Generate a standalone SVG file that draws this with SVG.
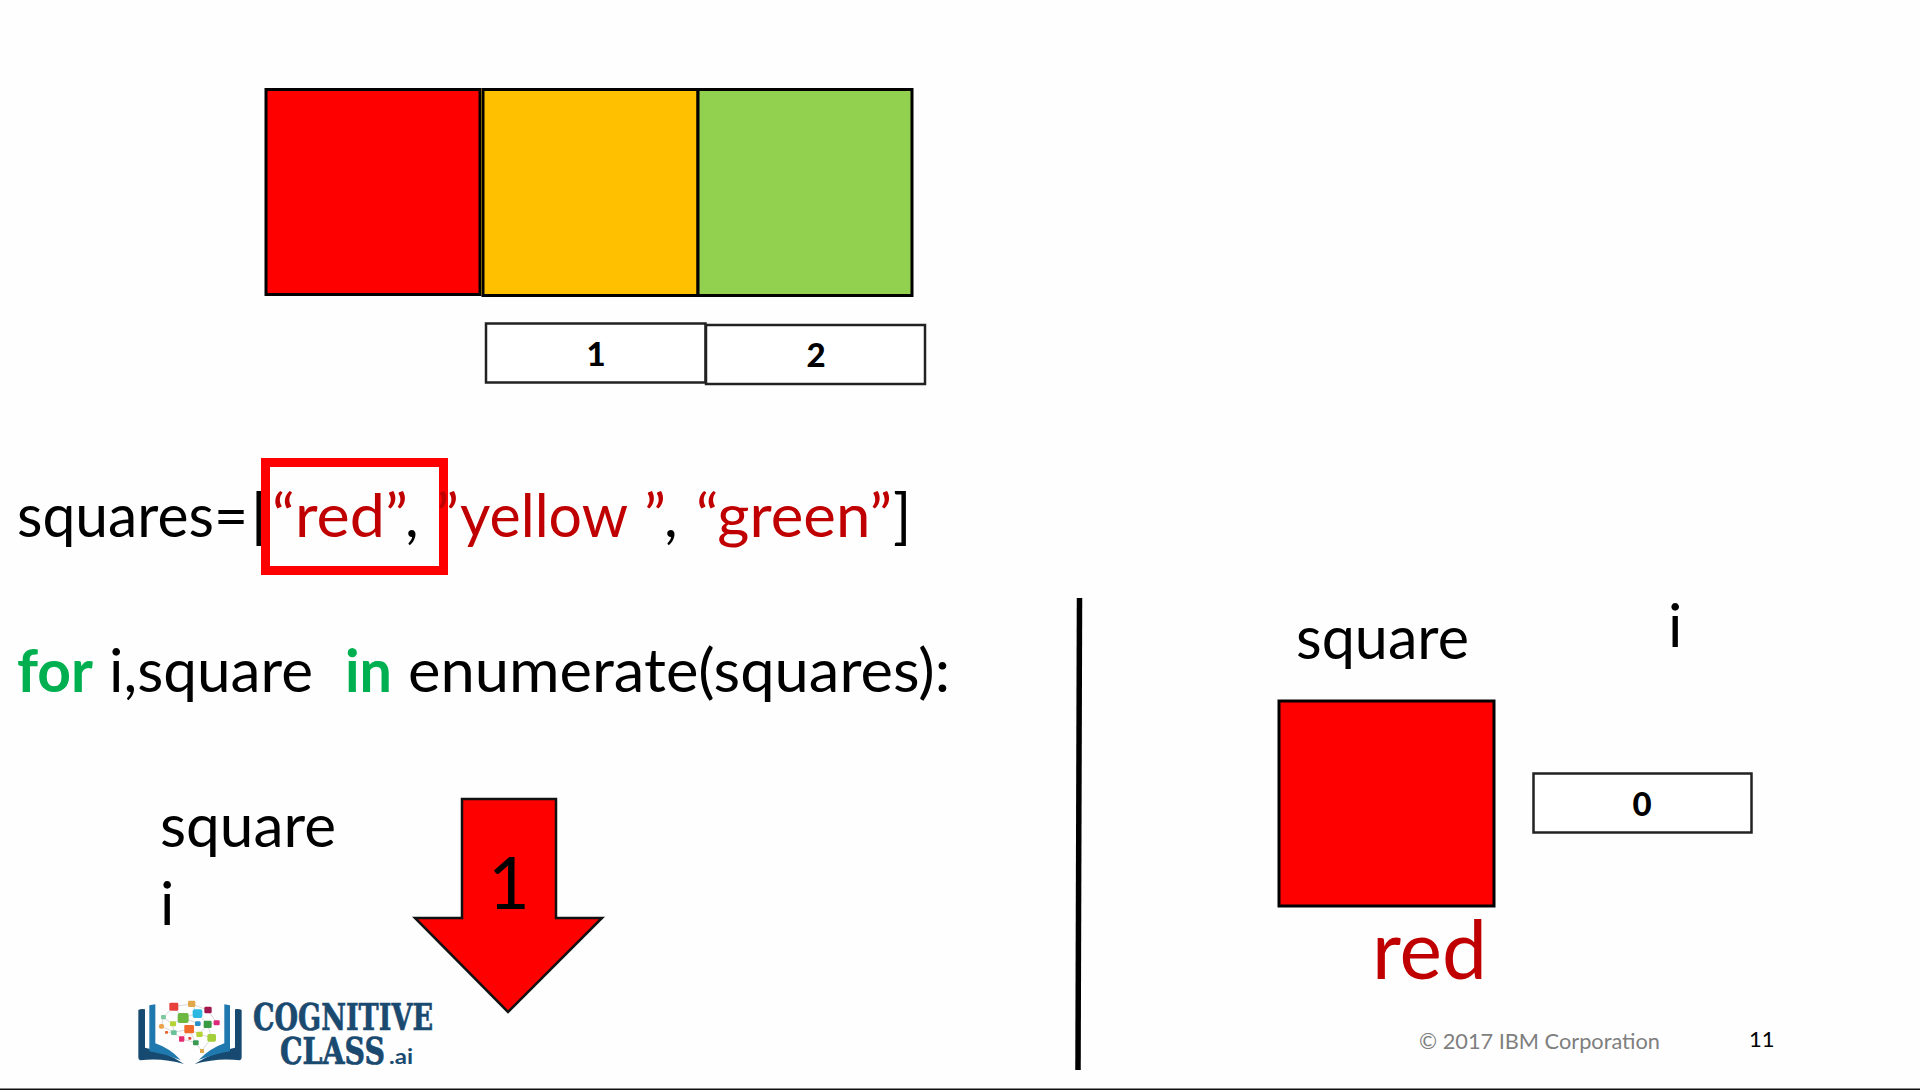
<svg xmlns="http://www.w3.org/2000/svg" width="1920" height="1090" viewBox="0 0 1920 1090">
<style>
text{font-family:"Lato","Carlito","Liberation Sans",sans-serif;fill:#000}
.code{font-size:60px}
.red{fill:#c00000}
.kw{fill:#00b050;font-weight:700}
.sq{stroke:#000;stroke-width:3}
.box{fill:#fff;stroke:#222;stroke-width:2.5}
.idx{font-size:33px;font-weight:900;text-anchor:middle}
.logo{font-family:"DejaVu Serif",serif;font-weight:700;fill:#1a4a70;stroke:#1a4a70;stroke-width:.7}
.n{stroke:none}
.w{stroke:#b5b5b5;stroke-width:1.5;fill:none}
</style>
<rect width="1920" height="1090" fill="#fefefe"/>

<g id="square-red"><rect class="sq" x="266" y="89.500" width="214" height="205" fill="#ff0000"/></g>
<g id="square-yellow"><rect x="481" y="89" width="4" height="206" fill="#ffc000"/><rect class="sq" x="483" y="89.500" width="215" height="206" fill="#ffc000"/></g>
<g id="square-green"><rect class="sq" x="698" y="89.500" width="214" height="206" fill="#92d050"/></g>
<g id="index-1"><rect class="box" x="486" y="323.500" width="219.500" height="59"/><text class="idx" x="596" y="366">1</text></g>
<g id="index-2"><rect class="box" x="706" y="325" width="219" height="59"/><text class="idx" x="816" y="367">2</text></g>

<g id="code-squares">
<text class="code" y="537" x="17" textLength="231" lengthAdjust="spacingAndGlyphs">squares=</text>
<text class="code" y="537" x="251">[</text>
<text class="code red" y="537" x="272" textLength="136" lengthAdjust="spacingAndGlyphs">“red”</text>
<text class="code" y="537" x="405">,</text>
<text class="code red" y="537" x="460" textLength="168" lengthAdjust="spacingAndGlyphs">yellow</text>
<text class="code red" y="537" x="644">”</text>
<text class="code" y="537" x="664">,</text>
<text class="code red" y="537" x="696" textLength="196" lengthAdjust="spacingAndGlyphs">“green”</text>
<text class="code" y="537" x="893">]</text>
</g>
<g id="highlight"><rect x="265.500" y="462.500" width="178" height="108" fill="none" stroke="#ff0000" stroke-width="9"/></g>
<g id="code-quote"><text class="code red" y="537" x="436" textLength="23" lengthAdjust="spacingAndGlyphs">”</text></g>

<g id="code-for">
<text class="code kw" y="692" x="17" textLength="76" lengthAdjust="spacingAndGlyphs">for</text>
<text class="code" y="692" x="109" textLength="204" lengthAdjust="spacingAndGlyphs">i,square</text>
<text class="code kw" y="692" x="345" textLength="47" lengthAdjust="spacingAndGlyphs">in</text>
<text class="code" y="692" x="408" textLength="542" lengthAdjust="spacingAndGlyphs">enumerate(squares):</text>
</g>

<g id="label-square-left"><text class="code" x="160" y="847" textLength="176" lengthAdjust="spacingAndGlyphs">square</text></g>
<g id="label-i-left"><text class="code" x="160" y="925">i</text></g>

<g id="arrow">
<polygon points="462,799 556,799 556,918 602,918 508,1012 415,918 462,918" fill="#ff0000" stroke="#111" stroke-width="2.500"/>
<text x="509" y="909" font-size="72" text-anchor="middle">1</text>
</g>

<g id="connectors"><line x1="1079.500" y1="598" x2="1078" y2="1070" stroke="#000" stroke-width="5.500"/></g>

<g id="label-square-right"><text class="code" x="1296" y="659" textLength="173" lengthAdjust="spacingAndGlyphs">square</text></g>
<g id="label-i-right"><text class="code" x="1668" y="647">i</text></g>
<g id="current-square"><rect class="sq" x="1279" y="701" width="215" height="205" fill="#ff0000"/></g>
<g id="current-label"><text class="red" x="1372" y="979" font-size="82" textLength="115" lengthAdjust="spacingAndGlyphs">red</text></g>
<g id="current-index"><rect class="box" x="1533.500" y="773.500" width="218" height="59"/><text class="idx" x="1642" y="816">0</text></g>

<g id="footer">
<text x="1419" y="1049" font-size="22" style="fill:#7f7f7f" textLength="241" lengthAdjust="spacingAndGlyphs">© 2017 IBM Corporation</text>
<text x="1749" y="1047" font-size="22">11</text>
<rect x="0" y="1088.500" width="1920" height="1.500" fill="#111"/>
</g>

<g id="logo">
<g transform="translate(120 980) scale(0.3333)">
<path fill="#164a70" d="M55 90Q62 86 75 88V203Q140 215 192 252Q125 232 60 241Q55 240 55 232Z"/>
<path fill="#1f78ae" d="M88 76L106 73V190Q150 205 182 240Q135 222 88 214Z"/>
<path fill="#164a70" d="M365 90Q358 86 345 88V203Q280 215 224 252Q295 232 360 241Q365 240 365 232Z"/>
<path fill="#1f78ae" d="M330 76L313 73V190Q270 205 236 240Q285 222 330 214Z"/>
<path class="w" d="M160 80L215 72L263 90L290 128L262 132L275 174L245 212L227 188L185 177L162 157L125 139L130 112L160 80L190 113L232 100L263 132L238 162L207 148L233 130L190 113L158 132L130 112M158 132L162 157L207 148L185 177M207 148L227 188M238 162L275 174M215 72L232 100M139 157L162 157"/>
<rect class="n" x="148" y="68" width="27" height="24" rx="4" fill="#e8413c"/>
<rect class="n" x="204" y="62" width="22" height="19" rx="4" fill="#e0a84a"/>
<rect class="n" x="253" y="80" width="22" height="20" rx="4" fill="#a3174f"/>
<rect class="n" x="123" y="105" width="15" height="13" rx="3" fill="#7fc8a0"/>
<rect class="n" x="173" y="99" width="33" height="30" rx="6" fill="#6cb840"/>
<rect class="n" x="218" y="88" width="29" height="26" rx="6" fill="#2cb8e0"/>
<rect class="n" x="150" y="124" width="18" height="15" rx="3" fill="#b5d334"/>
<rect class="n" x="225" y="124" width="17" height="14" rx="4" fill="#2a8fc8"/>
<rect class="n" x="251" y="122" width="24" height="22" rx="4" fill="#3a9a44"/>
<rect class="n" x="281" y="121" width="18" height="15" rx="3" fill="#e0287a"/>
<rect class="n" x="117" y="132" width="15" height="14" rx="5" fill="#eda14a"/>
<rect class="n" x="193" y="135" width="29" height="25" rx="4" fill="#f26a2a"/>
<rect class="n" x="153" y="151" width="17" height="14" rx="3" fill="#69c29a"/>
<rect class="n" x="135" y="153" width="9" height="8" rx="2" fill="#e8632c"/>
<rect class="n" x="229" y="155" width="19" height="16" rx="4" fill="#b5d334"/>
<rect class="n" x="262" y="162" width="26" height="23" rx="5" fill="#a4cf3a"/>
<rect class="n" x="177" y="169" width="16" height="16" rx="3" fill="#e62a72"/>
<rect class="n" x="205" y="171" width="9" height="8" rx="2" fill="#e0483a"/>
<rect class="n" x="219" y="181" width="17" height="15" rx="3" fill="#3a9a54"/>
<rect class="n" x="240" y="207" width="12" height="12" rx="2" fill="#e0a84a"/>
</g>
<text class="logo" x="253" y="1030" font-size="37" textLength="180" lengthAdjust="spacingAndGlyphs">COGNITIVE</text>
<text class="logo" x="280" y="1064" font-size="37" textLength="105" lengthAdjust="spacingAndGlyphs">CLASS</text>
<text x="389" y="1064" font-size="21" font-weight="700" style="fill:#1a4a70" textLength="24" lengthAdjust="spacingAndGlyphs">.ai</text>
</g>
</svg>
